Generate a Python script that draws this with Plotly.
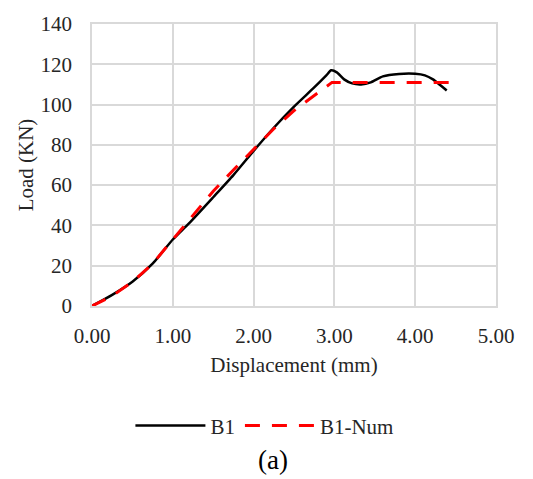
import plotly.graph_objects as go

b1_x = [0, 0.25, 0.5, 0.75, 1.0, 1.2, 1.5, 1.75, 2.0, 2.25, 2.5, 2.75, 2.9, 2.96, 3.03, 3.12, 3.22, 3.33, 3.45, 3.6, 3.8, 4.0, 4.12, 4.22, 4.3, 4.39]
b1_y = [0, 5.5, 12, 21, 33, 41, 54, 65, 77, 88.5, 99, 108.5, 114.5, 117, 116, 112.5, 110.5, 110, 111, 114, 115.2, 115.3, 114.5, 112.5, 110, 107]

num_x = [0, 0.25, 0.5, 0.75, 1.0, 1.25, 1.5, 1.75, 2.0, 2.25, 2.5, 2.75, 2.97, 3.5, 4.0, 4.5]
num_y = [0, 5, 12, 21, 33, 45, 57, 67.5, 78, 88, 97, 104.5, 111, 111, 111, 111]

x_ticks = [0, 1, 2, 3, 4, 5]
x_tick_labels = ["0.00", "1.00", "2.00", "3.00", "4.00", "5.00"]

font = "Liberation Serif, Times New Roman, serif"
grid = "#d9d9d9"
txt = "#262626"

fig = go.Figure()
fig.add_trace(go.Scatter(x=b1_x, y=b1_y, mode="lines", name="B1",
                         line=dict(color="black", width=2.5, shape="spline", smoothing=0.6)))
fig.add_trace(go.Scatter(x=num_x, y=num_y, mode="lines", name="B1-Num",
                         line=dict(color="#ff0000", width=3, dash="15px,12px")))

fig.update_layout(
    width=533, height=479,
    margin=dict(l=92, r=37, t=18, b=173),
    paper_bgcolor="white", plot_bgcolor="white",
    font=dict(family=font, size=21, color=txt),
    showlegend=True,
    legend=dict(orientation="h", x=0.428, xanchor="center", y=-0.425, yanchor="middle",
                font=dict(family=font, size=21, color=txt), itemwidth=70,
                bgcolor="rgba(0,0,0,0)"),
    xaxis=dict(range=[0, 5], tickvals=x_ticks, ticktext=x_tick_labels,
               showgrid=True, gridcolor=grid, gridwidth=1.5,
               showline=True, linecolor=grid, linewidth=1.5, mirror=True,
               zeroline=False, ticks="outside", ticklen=10, tickcolor="rgba(0,0,0,0)",
               title=dict(text="Displacement (mm)", font=dict(family=font, size=21, color=txt), standoff=10),
               tickfont=dict(family=font, size=21, color=txt)),
    yaxis=dict(range=[0, 140], dtick=20,
               showgrid=True, gridcolor=grid, gridwidth=1.5,
               showline=True, linecolor=grid, linewidth=1.5, mirror=True,
               zeroline=False, ticks="outside", ticklen=14, tickcolor="rgba(0,0,0,0)",
               title=dict(text="Load (KN)", font=dict(family=font, size=21, color=txt), standoff=1),
               tickfont=dict(family=font, size=21, color=txt)),
    annotations=[dict(text="(a)", x=0.4475, y=-0.545, xref="paper", yref="paper",
                      xanchor="center", yanchor="middle", showarrow=False,
                      font=dict(family=font, size=27, color="black"))],
)

fig.write_html("out.html")
